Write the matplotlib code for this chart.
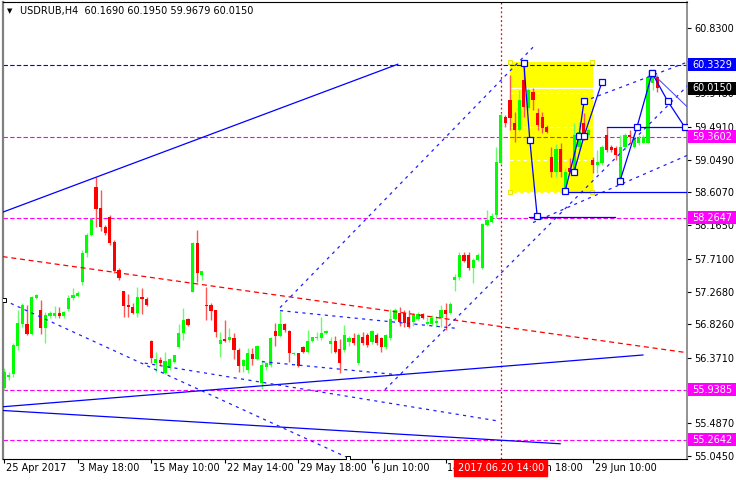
import matplotlib
matplotlib.use("Agg")
import matplotlib.pyplot as plt
from matplotlib.patches import Rectangle
from matplotlib.transforms import blended_transform_factory, IdentityTransform

# chart header
symbol = "USDRUB,H4"
last_ohlc = ["60.1690", "60.1950", "59.9679", "60.0150"]

# H4 candles (bar 0 = 25 Apr 2017)
opens = [55.96, 56.11, 56.15, 56.53, 56.83, 56.83, 56.69, 57.18, 57.02, 56.77,
         56.94, 56.94, 56.98, 56.94, 57.03, 57.18, 57.21, 57.40, 57.79, 58.03,
         58.68, 58.40, 58.14, 58.28, 57.94, 57.56, 57.27, 57.09, 57.06, 56.98,
         57.19, 57.17, 56.60, 56.30, 56.34, 56.17, 56.23, 56.32, 56.52, 56.71,
         56.90, 57.26, 57.92, 57.49, 57.09, 57.09, 57.02, 56.56, 56.63, 56.61,
         56.64, 56.48, 56.26, 56.21, 56.42, 56.36, 56.03, 56.25, 56.27, 56.73,
         56.67, 56.83, 56.73, 56.42, 56.44, 56.52, 56.45, 56.60, 56.64, 56.64,
         56.71, 56.56, 56.60, 56.49, 56.48, 56.59, 56.64, 56.30, 56.65, 56.68,
         56.59, 56.68, 56.64, 56.52, 56.64, 56.90, 56.98, 56.98, 56.92, 56.86,
         56.90, 56.97, 56.83, 56.83, 56.84, 56.91, 57.02, 56.98, 57.42, 57.46,
         57.76, 57.76, 57.59, 57.69, 57.59, 58.17, 58.21, 58.30, 59.01, 59.63,
         59.86, 59.55, 59.45, 60.13, 59.75, 59.97, 59.68, 59.63, 59.49, 59.09,
         58.88, 59.19, 58.64, 58.94, 58.88, 59.22, 59.55, 59.38, 59.05, 58.98,
         59.01, 59.38, 59.22, 59.21, 58.78, 59.22, 59.38, 59.22, 59.28, 59.28,
         59.28, 60.09, 60.169]
highs = [56.23, 56.18, 56.57, 57.02, 57.11, 57.09, 57.21, 57.23, 57.15, 56.99,
         57.00, 57.07, 57.06, 57.00, 57.22, 57.32, 57.27, 57.83, 58.06, 58.26,
         58.82, 58.64, 58.17, 58.30, 57.97, 57.59, 57.28, 57.23, 57.11, 57.33,
         57.32, 57.19, 56.61, 56.45, 56.38, 56.45, 56.37, 56.41, 56.83, 57.04,
         56.91, 57.94, 58.10, 57.55, 57.33, 57.11, 57.02, 56.72, 56.88, 56.77,
         56.71, 56.51, 56.36, 56.51, 56.51, 56.55, 56.34, 56.32, 56.65, 56.84,
         57.00, 56.84, 56.75, 56.45, 56.44, 56.53, 56.75, 56.65, 56.72, 56.92,
         56.75, 56.65, 56.67, 56.63, 56.82, 56.67, 56.71, 56.71, 56.72, 56.71,
         56.75, 56.71, 56.65, 56.69, 57.03, 57.04, 57.06, 57.02, 57.02, 56.98,
         56.99, 56.98, 56.92, 56.95, 56.94, 57.09, 57.11, 57.13, 57.51, 57.80,
         57.80, 57.80, 57.72, 57.79, 58.19, 58.37, 58.33, 59.22, 59.68, 59.65,
         60.20, 59.69, 59.99, 60.36, 60.02, 60.02, 59.75, 59.69, 59.52, 59.22,
         59.26, 59.28, 58.94, 59.07, 59.55, 59.56, 59.68, 59.48, 59.09, 59.18,
         59.25, 59.49, 59.25, 59.23, 59.38, 59.41, 59.45, 59.41, 59.38, 59.38,
         60.20, 60.26, 60.195]
lows = [55.94, 56.07, 56.11, 56.48, 56.79, 56.68, 56.68, 57.17, 56.69, 56.57,
        56.91, 56.91, 56.91, 56.91, 57.00, 57.15, 57.19, 57.36, 57.73, 58.02,
        58.14, 58.09, 58.03, 57.90, 57.52, 57.42, 56.92, 56.92, 56.97, 56.92,
        56.97, 57.07, 56.30, 56.18, 56.27, 56.15, 56.21, 56.30, 56.51, 56.61,
        56.80, 57.26, 57.40, 57.42, 56.88, 56.88, 56.65, 56.38, 56.59, 56.59,
        56.36, 56.18, 56.18, 56.17, 56.27, 56.34, 55.95, 56.21, 56.25, 56.53,
        56.65, 56.72, 56.32, 56.41, 56.25, 56.44, 56.44, 56.59, 56.61, 56.61,
        56.69, 56.44, 56.44, 56.17, 56.45, 56.53, 56.55, 56.27, 56.55, 56.52,
        56.56, 56.55, 56.45, 56.49, 56.61, 56.88, 56.80, 56.79, 56.77, 56.80,
        56.88, 56.90, 56.82, 56.82, 56.79, 56.79, 56.75, 56.97, 57.27, 57.42,
        57.67, 57.56, 57.38, 57.68, 57.57, 58.15, 58.19, 58.26, 58.99, 59.49,
        59.45, 59.29, 59.44, 59.63, 59.72, 59.72, 59.45, 59.41, 59.41, 58.82,
        58.82, 58.82, 58.61, 58.87, 58.87, 59.18, 59.32, 59.36, 58.87, 58.87,
        58.98, 59.15, 59.15, 59.05, 58.75, 59.18, 59.28, 59.21, 59.25, 59.28,
        59.28, 59.99, 59.9679]
closes = [56.18, 56.14, 56.55, 56.84, 57.09, 56.69, 57.19, 57.22, 56.77, 56.95,
          56.98, 56.98, 56.94, 56.99, 57.18, 57.22, 57.25, 57.79, 58.03, 58.25,
          58.38, 58.14, 58.06, 57.92, 57.55, 57.45, 57.07, 57.06, 56.98, 57.19,
          57.17, 57.09, 56.37, 56.36, 56.30, 56.33, 56.36, 56.41, 56.71, 56.88,
          56.82, 57.92, 57.52, 57.55, 57.07, 57.00, 56.72, 56.61, 56.60, 56.65,
          56.48, 56.26, 56.34, 56.44, 56.36, 56.53, 56.27, 56.30, 56.64, 56.67,
          56.83, 56.75, 56.44, 56.44, 56.26, 56.45, 56.60, 56.65, 56.65, 56.71,
          56.73, 56.60, 56.45, 56.30, 56.68, 56.64, 56.57, 56.68, 56.57, 56.55,
          56.73, 56.57, 56.52, 56.68, 56.90, 57.02, 56.86, 56.84, 56.79, 56.95,
          56.97, 56.91, 56.86, 56.91, 56.87, 57.02, 56.97, 57.10, 57.46, 57.76,
          57.68, 57.59, 57.69, 57.76, 58.18, 58.23, 58.29, 59.02, 59.65, 59.55,
          59.61, 59.45, 59.86, 59.76, 59.99, 59.86, 59.52, 59.48, 59.42, 58.88,
          59.19, 58.88, 58.88, 58.88, 59.38, 59.42, 59.36, 59.45, 58.98, 59.02,
          59.22, 59.18, 59.18, 59.11, 59.22, 59.38, 59.36, 59.34, 59.34, 59.36,
          60.17, 60.24, 60.015]

# axes labels (two ticks sit under level badges, so they get no text)
price_ticks = [60.8300, 60.3890, 59.9480, 59.4910, 59.0490, 58.6070, 58.1650,
               57.7100, 57.2680, 56.8260, 56.3710, 55.9290, 55.4870, 55.0450]
hidden_ticks = [60.3890, 55.9290]
time_ticks = [0, 16, 32, 48, 64, 80, 96, 112, 128]
time_labels = ["25 Apr 2017", "3 May 18:00", "15 May 10:00", "22 May 14:00",
               "29 May 18:00", "6 Jun 10:00", "14 Jun 14:00", "21 Jun 18:00",
               "29 Jun 10:00"]
cursor_bar = 108
cursor_label = "2017.06.20 14:00"
bid_price = 60.0150

# horizontal levels with their price-scale badges
levels = [60.3329, 59.3602, 58.2647, 55.9385, 55.2642]
level_colors = ["#0000ff", "#ff00ff", "#ff00ff", "#ff00ff", "#ff00ff"]

# background rectangle: (bar from, bar to, price low, price high)
box = (109.9, 127.8, 58.613, 60.371)

# trend lines: ((bar, price), (bar, price))
solid_lines = [((-0.3, 58.34), (85.6, 60.34)),
               ((-0.3, 55.71), (138.9, 56.41)),
               ((-0.3, 55.66), (120.9, 55.21))]
red_dashed = [((-0.3, 57.74), (148.6, 56.44))]
blue_dashed = [((0.0, 57.15), (74.8, 55.02)),
               ((30.6, 56.30), (107.2, 55.52)),
               ((60.0, 57.01), (98.4, 56.77)),
               ((56.1, 56.32), (86.1, 56.14)),
               ((60.0, 57.05), (115.0, 60.57)),
               ((82.8, 55.94), (148.6, 60.05)),
               ((126.1, 59.84), (148.6, 60.37)),
               ((115.0, 58.20), (148.6, 59.11))]
# forecast zig-zags (solid, with square nodes)
zigzags = [[(113.0, 60.36), (114.3, 59.32), (115.9, 58.29)],
           [(122.0, 58.63), (125.0, 59.37), (126.1, 59.84)],
           [(123.9, 58.88), (126.1, 59.37), (130.0, 60.10)],
           [(133.9, 58.76), (137.6, 59.49), (140.9, 60.22)],
           [(140.9, 60.22), (144.3, 59.84), (148.0, 59.49)]]
thin_lines = [((140.9, 60.22), (148.6, 59.76))]
flat_lines = [(114.1, 132.8, 58.28), (131.0, 148.6, 59.49), (122.0, 148.6, 58.607)]

W, H = 736, 480
fig = plt.figure(figsize=(W / 100, H / 100), dpi=100)
ax = fig.add_axes([3 / W, 21 / H, 684 / W, 457 / H])
ax.set_xlim(-0.22, 148.48)
ax.set_ylim(55.004, 61.1815)

fs = 7
dash_h = (0, (4, 2))
dash_t = (0, (2.5, 3.5))

ax.add_patch(Rectangle((box[0], box[2]), box[1] - box[0], box[3] - box[2],
                       facecolor="#ffff00", edgecolor="#ffff00", lw=0.8, zorder=0.5))
for cx in (box[0], box[1]):
    for cy in (box[2], box[3]):
        ax.plot(cx, cy, "s", ms=3.5, mfc="#ffffa0", mec="#e8e800", mew=0.7, zorder=0.6)

ax.set_yticks(price_ticks)
ax.grid(axis="y", color="white", linestyle=(0, (3, 3)), lw=0.8)
ax.set_axisbelow(True)
ax.axhline(bid_price, color="white", lw=0.9, zorder=0.7)

for lv, col in zip(levels, level_colors):
    ax.axhline(lv, color=col, lw=0.8, linestyle=dash_h, zorder=1)

ax.axvline(cursor_bar, color="#ff0000", lw=0.9, linestyle=(0, (1.5, 2)), zorder=1)

# candles
for i, (o, h, l, c) in enumerate(zip(opens, highs, lows, closes)):
    up = c >= o
    col = "#00ff00" if up else "#ff0000"
    wick = "#66ff66" if up else "#ff5555"
    ax.vlines(i, l, h, color=wick, lw=1.0, zorder=2)
    ax.bar(i, max(abs(c - o), 0.012), bottom=min(o, c), width=0.66,
           color=col, lw=0, zorder=2.1)

for (x0, y0), (x1, y1) in solid_lines:
    ax.plot([x0, x1], [y0, y1], color="#0000ff", lw=0.9, zorder=3)
for (x0, y0), (x1, y1) in red_dashed:
    ax.plot([x0, x1], [y0, y1], color="#ff0000", lw=0.9, linestyle=(0, (4, 3)), zorder=3)
for (x0, y0), (x1, y1) in blue_dashed:
    ax.plot([x0, x1], [y0, y1], color="#2020ff", lw=0.9, linestyle=dash_t, zorder=3)
for (x0, y0), (x1, y1) in thin_lines:
    ax.plot([x0, x1], [y0, y1], color="#4040ff", lw=0.7, zorder=3)
for x0, x1, y in flat_lines:
    ax.plot([x0, x1], [y, y], color="#0000ff", lw=0.9, zorder=3)
for zz in zigzags:
    xs, ys = zip(*zz)
    ax.plot(xs, ys, color="#0000ff", lw=0.9, zorder=4)
    ax.plot(xs, ys, "s", ms=4, mfc="white", mec="#0000ff", mew=0.9, zorder=4.1)
for (x0, y0) in [(0.0, 57.15), (74.8, 55.02)]:
    ax.plot(x0, y0, "s", ms=3.5, mfc="white", mec="black", mew=0.7, zorder=4)

# frame and price scale
for s in ax.spines.values():
    s.set_color("black")
    s.set_linewidth(0.8)
ax.spines["left"].set_color("#808080")
ax.spines["left"].set_linewidth(1.6)
ax.spines["right"].set_color("#808080")
ax.spines["right"].set_linewidth(1.2)
ax.yaxis.tick_right()
ax.tick_params(axis="y", length=3, width=0.8, pad=2, labelsize=fs, colors="black")
ax.set_yticklabels(["" if p in hidden_ticks else f"{p:.4f}" for p in price_ticks])
ax.set_xticks(time_ticks)
ax.set_xticklabels([])
ax.tick_params(axis="x", length=3, width=0.8, direction="out")

# badges on the price scale, drawn in pixels from the axis to the figure edge
badges = list(zip(levels, level_colors)) + [(bid_price, "black")]
for lv, col in badges:
    ypx = ax.transData.transform((0, lv))[1]
    fig.add_artist(Rectangle((688, ypx - 6.5), W - 688, 13, transform=IdentityTransform(),
                             facecolor=col, edgecolor="none", zorder=9))
    fig.text(692 / W, ypx / H, f"{lv:.4f}", fontsize=fs, color="white",
             va="center", ha="left", zorder=10)

tr_x = blended_transform_factory(ax.transData, ax.transAxes)
for t, lab in zip(time_ticks, time_labels):
    ax.text(t + 0.4, -9 / 457, lab, transform=tr_x, fontsize=fs, va="center",
            ha="left", clip_on=False, zorder=5)
ax.text(cursor_bar, -9 / 457, cursor_label, transform=tr_x, fontsize=fs,
        va="center", ha="center", color="white", clip_on=False, zorder=10,
        bbox=dict(boxstyle="square,pad=0.35", fc="#ff0000", ec="#ff0000"))

fig.text(10 / W, 1 - 11 / H, "\u25bc", fontsize=5, va="center", ha="center")
fig.text(20 / W, 1 - 11 / H, symbol + "  " + " ".join(last_ohlc), fontsize=fs,
         va="center", ha="left")

fig.savefig("out.png", dpi=100)
